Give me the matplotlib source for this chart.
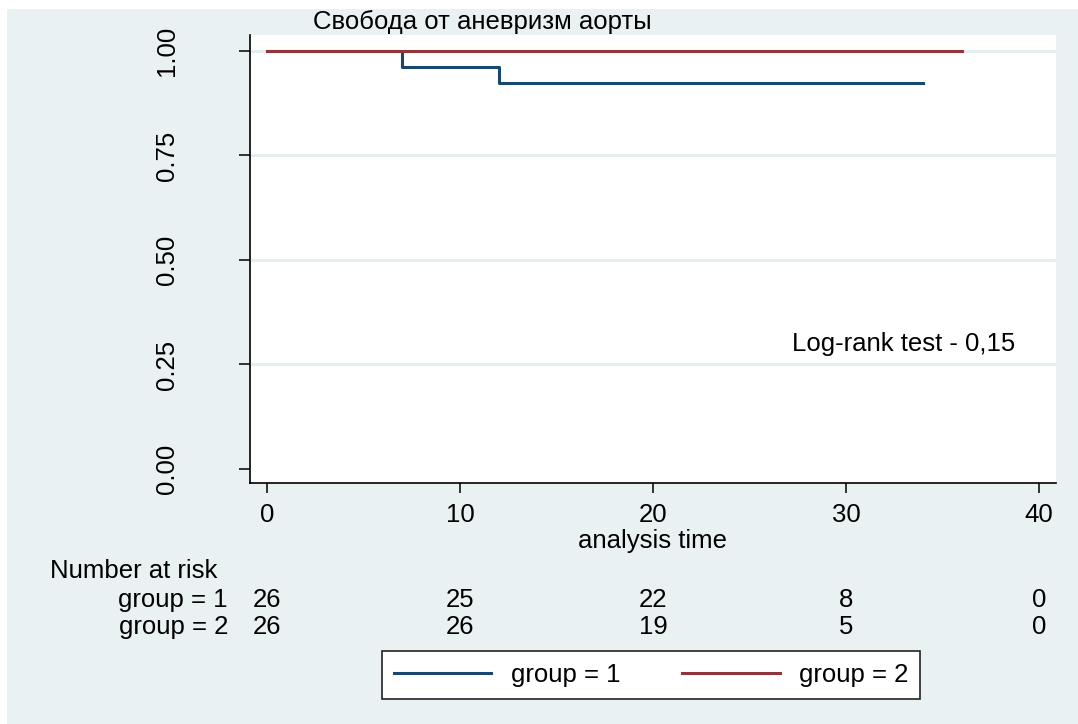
import matplotlib
matplotlib.use("Agg")
import matplotlib.pyplot as plt
import matplotlib.transforms as mtransforms
from matplotlib.patches import Rectangle

plt.rcParams['font.family'] = ['Liberation Sans', 'DejaVu Sans']

# Kaplan-Meier step data per group
times_g1 = [0, 7, 12, 34]
surv_g1 = [1.0, 25 / 26, 24 / 26, 24 / 26]
times_g2 = [0, 36]
surv_g2 = [1.0, 1.0]

risk_times = [0, 10, 20, 30, 40]
risk_g1 = [26, 25, 22, 8, 0]
risk_g2 = [26, 26, 19, 5, 0]

group_labels = ["group = 1", "group = 2"]
title = "Свобода от аневризм аорты"
test_note = "Log-rank test - 0,15"

W, H = 1078, 724
bg = "#eaf1f3"
grid_col = "#e3ecef"
col1 = "#1a476f"
col2 = "#90353b"
fs = 18.5


def fx(px):
    return px / W


def fy(py):
    return 1 - py / H


fig = plt.figure(figsize=(W / 100, H / 100), dpi=100)
fig.patch.set_facecolor("white")
fig.patches.append(Rectangle((fx(7), 0), 1 - fx(7), fy(9), transform=fig.transFigure,
                             facecolor=bg, edgecolor="none", zorder=-5))

ax = fig.add_axes([fx(250), fy(483), fx(1056) - fx(250), fy(35) - fy(483)])
ax.set_facecolor("white")
ax.set_xlim(-0.88, 40.88)
ax.set_ylim(-0.0335, 1.038)

for y in [0.25, 0.5, 0.75, 1.0]:
    ax.axhline(y, color=grid_col, lw=2, zorder=1)

ax.step(times_g1, surv_g1, where="post", color=col1, lw=2.2, zorder=3, label=group_labels[0])
ax.step(times_g2, surv_g2, where="post", color=col2, lw=2.2, zorder=3, label=group_labels[1])

for s in ["top", "right"]:
    ax.spines[s].set_visible(False)
for s in ["left", "bottom"]:
    ax.spines[s].set_linewidth(1.2)

ax.set_yticks([0, 0.25, 0.5, 0.75, 1.0])
ax.set_yticklabels(["0.00", "0.25", "0.50", "0.75", "1.00"], rotation=90, va="center")
ax.set_xticks(risk_times)
ax.tick_params(axis="y", length=8, width=1.1, pad=43, labelsize=fs)
ax.tick_params(axis="x", length=7.5, width=1.1, pad=7, labelsize=fs)
ax.set_xlabel("analysis time", fontsize=fs, labelpad=1)

fig.text(fx(313), fy(22), title, fontsize=fs, ha="left", va="center")
fig.text(fx(1015), fy(344), test_note, fontsize=fs, ha="right", va="center")

# number-at-risk table under the axis
trans = mtransforms.blended_transform_factory(ax.transData, fig.transFigure)
fig.text(fx(50), fy(571), "Number at risk", fontsize=fs, ha="left", va="center")
for row_y, lab, vals in [(600, group_labels[0], risk_g1), (627, group_labels[1], risk_g2)]:
    fig.text(fx(228), fy(row_y), lab, fontsize=fs, ha="right", va="center")
    for t, v in zip(risk_times, vals):
        ax.text(t, fy(row_y), str(v), fontsize=fs, ha="center", va="center",
                transform=trans, clip_on=False)

leg = fig.legend(loc="center", bbox_to_anchor=(fx(651), fy(675)), ncol=2, fontsize=fs,
                 frameon=True, fancybox=False, edgecolor="#222222", facecolor="white",
                 framealpha=1, handlelength=3.8, handletextpad=0.75, columnspacing=2.4,
                 borderpad=0.45)
leg.get_frame().set_linewidth(1.2)

fig.savefig("out.png", dpi=100, facecolor=fig.get_facecolor())
